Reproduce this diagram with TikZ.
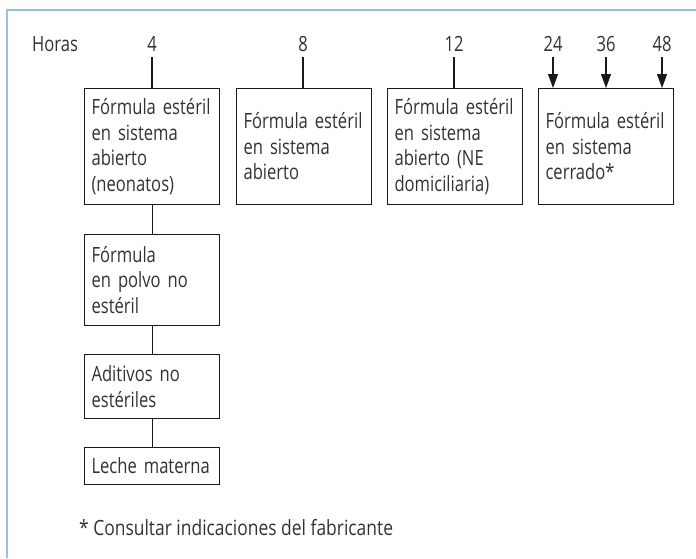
\documentclass[tikz,border=0pt]{standalone}
\usepackage{fontspec}
\setmainfont{Open Sans}[FakeStretch=0.79]
\newfontfamily\footfont{Open Sans}[FakeStretch=0.83]
\usetikzlibrary{arrows.meta}
\definecolor{framec}{RGB}{150,195,215}
\definecolor{txt}{RGB}{50,50,50}
\tikzset{
  boxnode/.style={draw=black!90, line width=1.1pt, rectangle, minimum width=135pt, text width=121pt, inner xsep=7pt, align=left, font=\fontsize{21}{25.5}\selectfont, text=txt, anchor=north west},
  hlabel/.style={font=\fontsize{21}{24}\selectfont, text=txt, inner sep=0pt},
  conn/.style={line width=1.1pt, draw=black!90},
  arr/.style={line width=1.1pt, draw=black!90, -{Triangle[length=14pt,width=10pt]}}
}
\begin{document}
\begin{tikzpicture}[x=1pt,y=-1pt]
\useasboundingbox (0,0) rectangle (696,558);
\draw[framec, line width=1.5pt] (7,558) -- (7,10) -- (696,10);
% hour labels
\node[hlabel] (horas) at (55,44) {Horas};
\node[hlabel] (l4) at (152,44) {4};
\node[hlabel] (l8) at (303,44) {8};
\node[hlabel] (l12) at (454,44) {12};
\node[hlabel] (l24) at (553,44) {24};
\node[hlabel] (l36) at (606,44) {36};
\node[hlabel] (l48) at (662,44) {48};
% boxes
\node[boxnode, minimum height=116pt] (b1) at (84,88) {Fórmula estéril\\en sistema\\abierto\\(neonatos)};
\node[boxnode, minimum height=116pt, minimum width=134pt] (b2) at (236,88) {Fórmula estéril\\en sistema\\abierto};
\node[boxnode, minimum height=116pt] (b3) at (387,88) {Fórmula estéril\\en sistema\\abierto (NE\\domiciliaria)};
\node[boxnode, minimum height=116pt] (b4) at (538,88) {Fórmula estéril\\en sistema\\cerrado*};
\node[boxnode, minimum height=91pt] (b5) at (84,234) {Fórmula\\en polvo no\\estéril};
\node[boxnode, minimum height=64pt] (b6) at (84,354) {Aditivos no\\estériles};
\node[boxnode, minimum height=37pt] (b7) at (84,447) {Leche materna};
% connectors
\coordinate (c4) at (152,57);
\coordinate (c8) at (303,57);
\coordinate (c12) at (454,57);
\coordinate (c24) at (553,57);
\coordinate (c36) at (606,57);
\coordinate (c48) at (662,57);
\draw[conn] (c4) -- (c4 |- b1.north);
\draw[conn] (c8) -- (c8 |- b2.north);
\draw[conn] (c12) -- (c12 |- b3.north);
\draw[arr] (c24) -- (c24 |- b4.north);
\draw[arr] (c36) -- (c36 |- b4.north);
\draw[arr] (c48) -- (c48 |- b4.north);
\draw[conn] (b1.south) -- (b5.north);
\draw[conn] (b5.south) -- (b6.north);
\draw[conn] (b6.south) -- (b7.north);
% footnote
\node[hlabel, anchor=west, font=\footfont\fontsize{21}{24}\selectfont] (fn) at (79,528) {* Consultar indicaciones del fabricante};
\end{tikzpicture}
\end{document}
